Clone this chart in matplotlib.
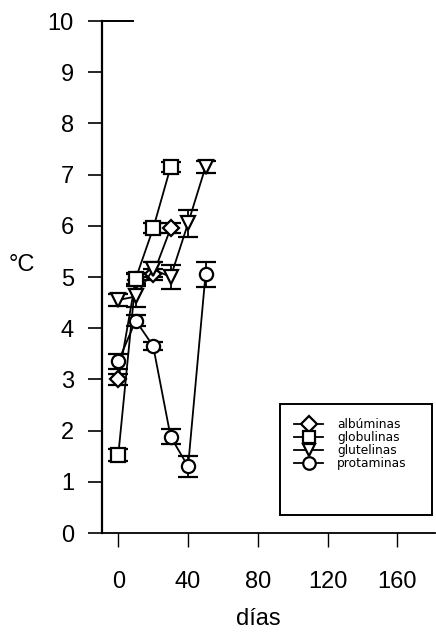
import matplotlib
matplotlib.use("Agg")
import matplotlib.pyplot as plt
from matplotlib.patches import Rectangle

plt.rcParams['font.family'] = ['Liberation Sans', 'DejaVu Sans']

# Sampling days and measured values (°C) with their error bars
days_short = [0, 10, 20, 30]
days_long = [0, 10, 20, 30, 40, 50]

albuminas = [3.0, 4.95, 5.05, 5.95]
albuminas_err = [0.1, 0.1, 0.1, 0.1]

globulinas = [1.52, 4.97, 5.95, 7.15]
globulinas_err = [0.12, 0.1, 0.1, 0.1]

glutelinas = [4.55, 4.62, 5.15, 5.0, 6.05, 7.15]
glutelinas_err = [0.12, 0.2, 0.15, 0.24, 0.26, 0.12]

protaminas = [3.35, 4.15, 3.65, 1.88, 1.3, 5.05]
protaminas_err = [0.15, 0.1, 0.08, 0.15, 0.2, 0.24]

series_names = ["albúminas", "globulinas", "glutelinas", "protaminas"]
x_ticks = [0, 40, 80, 120, 160]
y_ticks = list(range(0, 11))

W, H = 436, 634
fig = plt.figure(figsize=(W / 100, H / 100), dpi=100)

left, right, bottom, top = 101.7, 435.0, 533.0, 21.0
ax = fig.add_axes([left / W, (H - bottom) / H, (right - left) / W, (bottom - top) / H])

style = dict(color="black", mfc="white", mec="black", mew=1.6, lw=1.3,
             elinewidth=1.3, capsize=7.5, capthick=1.4, ms=9.5)

c1 = ax.errorbar(days_short, albuminas, yerr=albuminas_err, marker="D", **{**style, "ms": 8.5})
c2 = ax.errorbar(days_short, globulinas, yerr=globulinas_err, marker="s", **style)
c3 = ax.errorbar(days_long, glutelinas, yerr=glutelinas_err, marker="v", **style)
c4 = ax.errorbar(days_long, protaminas, yerr=protaminas_err, marker="o", **style)

ax.set_xlim(-9.5, 181.5)
ax.set_ylim(0, 10)
ax.set_xticks(x_ticks)
ax.set_yticks(y_ticks)

for s in ("top", "right"):
    ax.spines[s].set_visible(False)
ax.spines["left"].set_linewidth(1.6)
ax.spines["bottom"].set_linewidth(1.3)

# short stub of the upper frame next to the y axis
ax.plot([-9.5, 8.5], [10, 10], color="black", lw=1.4, clip_on=False)

ax.tick_params(axis="y", direction="out", length=10, width=1.2, pad=10, labelsize=17)
ax.tick_params(axis="x", direction="out", length=10, width=1.0, pad=17, labelsize=17)

fig.text(22 / W, 1 - 265 / H, "°C", fontsize=17, ha="center", va="center")
fig.text(258 / W, 1 - 619 / H, "días", fontsize=17, ha="center", va="center")

# legend frame drawn larger than its entries
fig.patches.append(Rectangle((280 / W, 1 - 515 / H), (432 - 280) / W, (515 - 404) / H,
                             transform=fig.transFigure, fill=False, edgecolor="black", lw=1.4))
leg = ax.legend([c1[0], c2[0], c3[0], c4[0]], series_names, loc="upper left",
                bbox_to_anchor=(288 / W, 1 - 412 / H), bbox_transform=fig.transFigure,
                frameon=False, prop={"family": "DejaVu Sans", "size": 8.8},
                handlelength=2.4, handletextpad=1.1,
                labelspacing=0.0, borderpad=0, markerscale=0.95)

fig.savefig("out.png", dpi=100)
